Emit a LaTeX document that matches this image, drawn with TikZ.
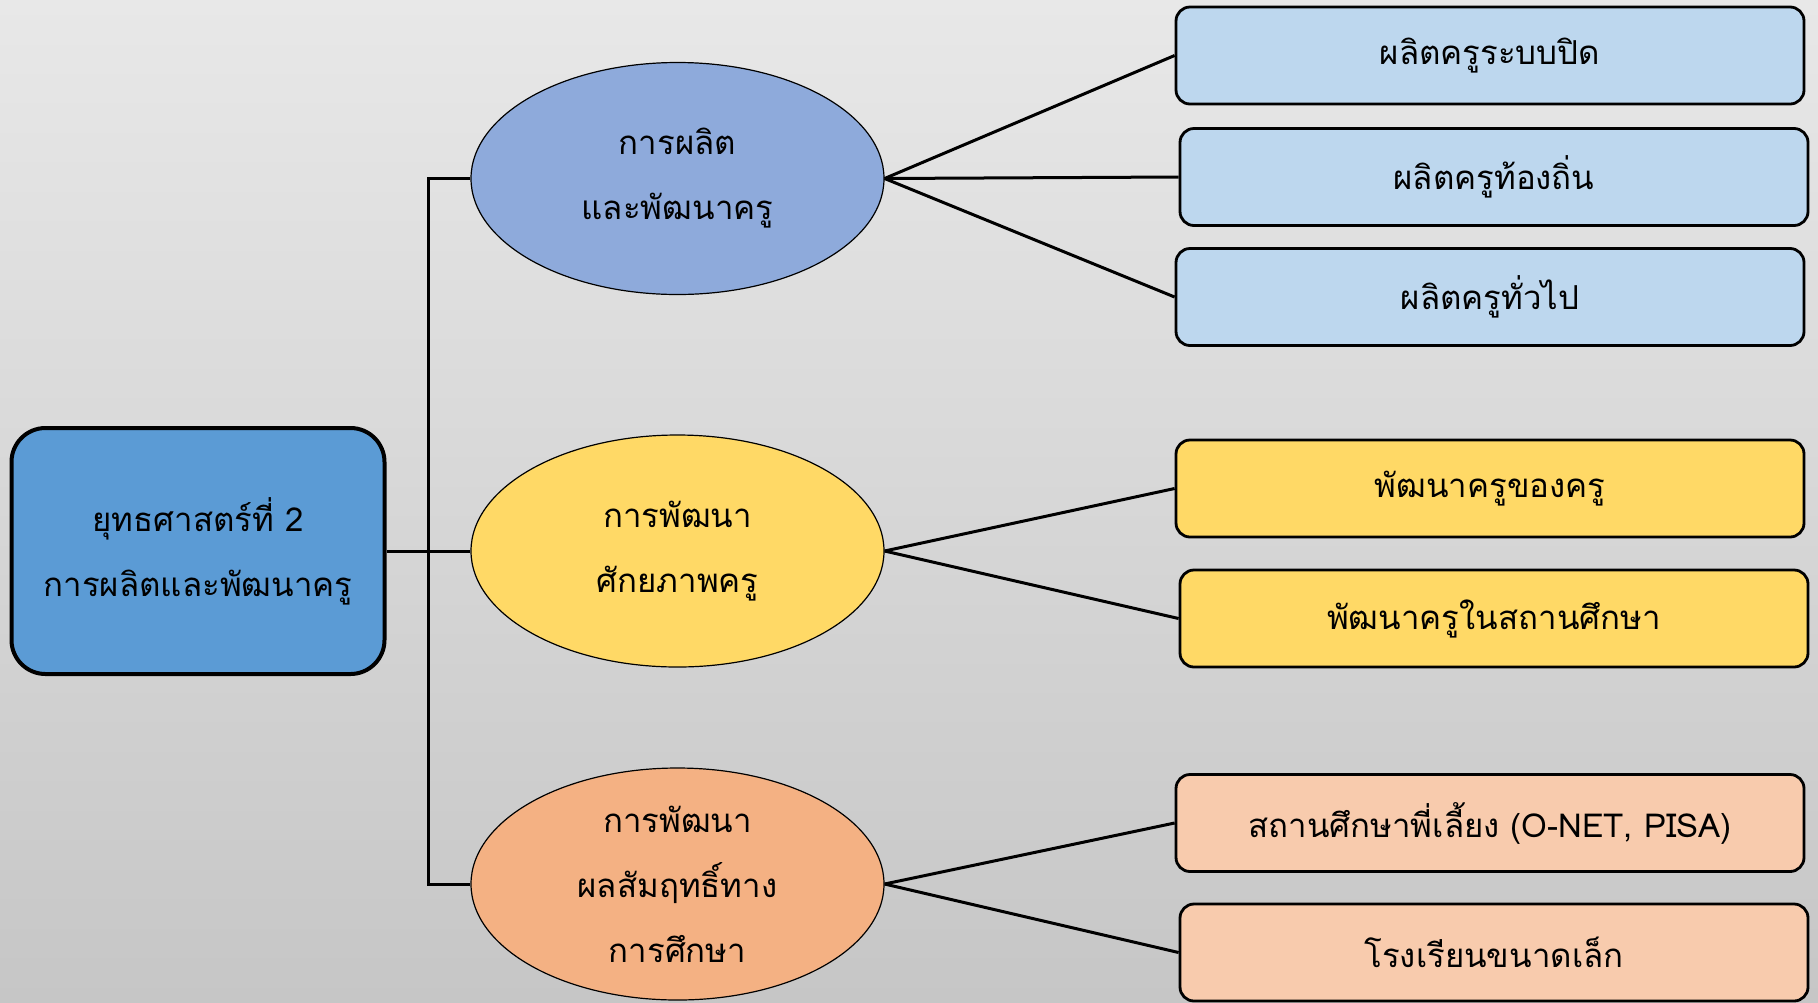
\documentclass[tikz,border=0pt]{standalone}
\usepackage{fontspec}
\usetikzlibrary{shapes.geometric}
\newfontfamily\thaifont[Script=Thai]{Loma}
\definecolor{bgtop}{HTML}{E8E8E8}
\definecolor{bgbot}{HTML}{C6C6C6}
\definecolor{rootc}{HTML}{5B9BD5}
\definecolor{blueE}{HTML}{8EAADB}
\definecolor{yelE}{HTML}{FFD966}
\definecolor{orE}{HTML}{F4B183}
\definecolor{blueB}{HTML}{BDD7EE}
\definecolor{yelB}{HTML}{FFD966}
\definecolor{orB}{HTML}{F8CBAD}
\tikzset{
  txt/.style={font=\thaifont\fontsize{16.5}{32.5}\selectfont, align=center, text=black},
  rootbox/.style={txt, draw=black, line width=2pt, rounded corners=17pt, fill=rootc, minimum width=186.5pt, minimum height=123pt, inner sep=0pt},
  topic/.style={txt, ellipse, draw=black, line width=0.6pt, minimum width=206.5pt, minimum height=116pt, inner sep=0pt},
  leaf/.style={txt, draw=black, line width=1.4pt, rounded corners=7pt, minimum width=314pt, minimum height=48.5pt, inner sep=0pt},
  conn/.style={draw=black, line width=1.5pt}
}
\begin{document}
\begin{tikzpicture}[x=0.5pt,y=-0.5pt]
\useasboundingbox (0,0) rectangle (1818,1002);
\shade[top color=bgtop, bottom color=bgbot] (0,0) rectangle (1818,1002);
% root
\node[rootbox] (root) at (198,551) {ยุทธศาสตร์ที่ 2\\การผลิตและพัฒนาครู};
% topics
\node[topic, fill=blueE] (e1) at (677.5,178.5) {การผลิต\\และพัฒนาครู};
\node[topic, fill=yelE] (e2) at (677.5,551) {การพัฒนา\\ศักยภาพครู};
\node[topic, fill=orE] (e3) at (677.5,884) {การพัฒนา\\ผลสัมฤทธิ์ทาง\\การศึกษา};
% leaves
\node[leaf, fill=blueB] (b1) at (1490,55.5) {ผลิตครูระบบปิด};
\node[leaf, fill=blueB] (b2) at (1494,177) {ผลิตครูท้องถิ่น};
\node[leaf, fill=blueB] (b3) at (1490,297) {ผลิตครูทั่วไป};
\node[leaf, fill=yelB] (b4) at (1490,488.5) {พัฒนาครูของครู};
\node[leaf, fill=yelB] (b5) at (1494,618.5) {พัฒนาครูในสถานศึกษา};
\node[leaf, fill=orB] (b6) at (1490,823) {สถานศึกษาพี่เลี้ยง (O-NET, PISA)};
\node[leaf, fill=orB] (b7) at (1494,952.5) {โรงเรียนขนาดเล็ก};
% trunk
\coordinate (t1) at (428,178.5);
\coordinate (t3) at (428,884);
\draw[conn] (e1.west) -- (t1) -- (t3) -- (e3.west);
\draw[conn] (root.east) -- (e2.west);
% branches
\foreach \b in {b1,b2,b3} \draw[conn] (e1.east) -- (\b.west);
\foreach \b in {b4,b5} \draw[conn] (e2.east) -- (\b.west);
\foreach \b in {b6,b7} \draw[conn] (e3.east) -- (\b.west);
\end{tikzpicture}
\end{document}
